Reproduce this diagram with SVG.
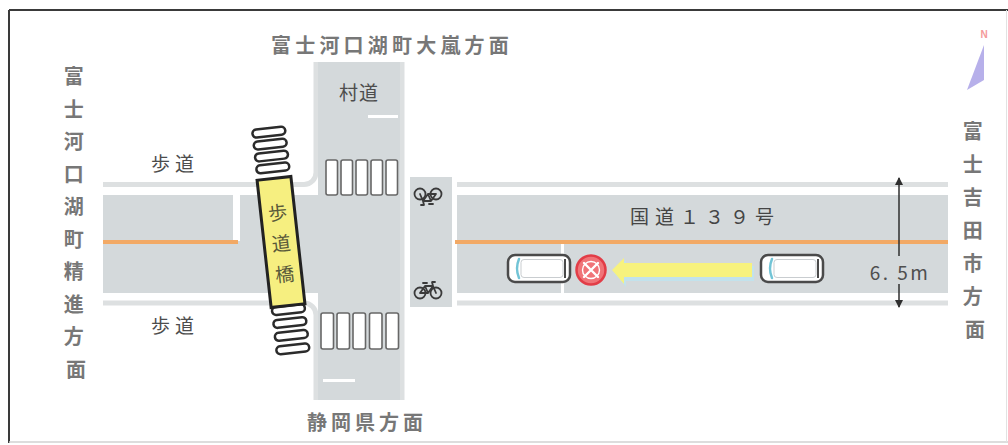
<svg xmlns="http://www.w3.org/2000/svg" width="1008" height="445" viewBox="0 0 1008 445">
  <style>
    .road{fill:#d4d9db}
    .curb{fill:none;stroke:#dde0e1;stroke-width:5}
    .cline{fill:#f2a965}
    .stop{fill:#ffffff}
    .zebra rect{fill:#ffffff;stroke:#676767;stroke-width:1.6}
    .dir{font-family:"Noto Sans CJK JP","Noto Sans",sans-serif;font-weight:700;font-size:20px;fill:#777777;text-anchor:middle;dominant-baseline:central}
    .lbl{font-family:"Noto Sans CJK JP","Noto Sans",sans-serif;font-size:19px;fill:#4d4d4d;text-anchor:middle;dominant-baseline:central}
    .pill{fill:#ffffff;stroke:#2b2b2b;stroke-width:2.5}
    .bike{fill:none;stroke:#3a3a3a;stroke-width:1.8;stroke-linecap:round;stroke-linejoin:round}
    .body{fill:#ffffff;stroke:#4a4a4a;stroke-width:2.5}
    .glass{fill:none;stroke:#72c4d6;stroke-width:2.5;stroke-linecap:round}
  </style>
  <defs>
    <marker id="dimHead" viewBox="0 0 8 8" markerWidth="8" markerHeight="8" refX="7" refY="4" orient="auto" markerUnits="userSpaceOnUse">
      <path d="M0,0 L8,4 L0,8 z" fill="#2f2f2f"/>
    </marker>
    <g id="bicycle">
      <circle cx="-8" cy="3" r="5.5" class="bike"/>
      <circle cx="8" cy="3" r="5.5" class="bike"/>
      <path class="bike" d="M-8,3 L-3,-4 L5,-4 L8,3 M-3,-4 L0,3 L5,-4 M-8,3 L0,3 M5,-4 L4,-8 L7,-8 M-5,-7 L-1,-7"/>
    </g>
    <g id="car">
      <rect class="body" x="0" y="0" width="62" height="27" rx="7"/>
      <path class="glass" d="M11,4 Q7,13.5 11,23"/>
      <rect x="13" y="4.5" width="42" height="18" rx="3" fill="none" stroke="#c9cdd0" stroke-width="1"/>
      <line x1="57" y1="4" x2="57" y2="23" stroke="#4a4a4a" stroke-width="2"/>
    </g>
  </defs>

  <rect width="1008" height="445" fill="#ffffff"/>

  <!-- frame -->
  <g id="frame">
    <line x1="9" y1="10" x2="1008" y2="10" stroke="#3a3a3a" stroke-width="2"/>
    <line x1="9" y1="10" x2="9" y2="443" stroke="#3a3a3a" stroke-width="2"/>
    <line x1="9" y1="442" x2="1008" y2="442" stroke="#d2d2d2" stroke-width="1.5"/>
    <line x1="1006.5" y1="10" x2="1006.5" y2="442" stroke="#e2e2e2" stroke-width="1"/>
  </g>

  <!-- road surface -->
  <g id="roads">
    <!-- curbs -->
    <path class="curb" d="M103,184.5 H304 A12,12 0 0 0 316,172.5 V62"/>
    <path class="curb" d="M103,303 H304 A12,12 0 0 1 316,315 V400"/>
    <line class="curb" x1="402" y1="62" x2="402" y2="400"/>
    <line class="curb" x1="457" y1="184.5" x2="948" y2="184.5"/>
    <line class="curb" x1="457" y1="303" x2="948" y2="303"/>
    <!-- carriageways -->
    <rect class="road" x="103" y="195" width="130" height="46"/>
    <rect class="road" x="240" y="195" width="80" height="46"/>
    <rect class="road" x="103" y="241" width="217" height="52"/>
    <rect class="road" x="318" y="62" width="82" height="338"/>
    <rect class="road" x="410" y="177" width="42" height="130"/>
    <rect class="road" x="457" y="195" width="491" height="98"/>
    <!-- centre line -->
    <rect class="cline" x="103" y="240" width="135" height="4"/>
    <rect class="cline" x="455" y="240" width="493" height="4"/>
    <!-- stop lines -->
    <rect class="stop" x="368" y="115" width="30" height="3"/>
    <rect class="stop" x="323" y="379" width="32" height="3"/>
    <rect class="stop" x="561" y="244" width="3" height="49"/>
  </g>

  <!-- pedestrian crossings -->
  <g id="crossing-north" class="zebra">
    <rect x="326" y="160" width="11.5" height="35" rx="2"/>
    <rect x="341" y="160" width="11.5" height="35" rx="2"/>
    <rect x="356" y="160" width="11.5" height="35" rx="2"/>
    <rect x="371" y="160" width="11.5" height="35" rx="2"/>
    <rect x="386" y="160" width="11.5" height="35" rx="2"/>
  </g>
  <g id="crossing-south" class="zebra">
    <rect x="321" y="313" width="12.5" height="36" rx="2"/>
    <rect x="337" y="313" width="12.5" height="36" rx="2"/>
    <rect x="353" y="313" width="12.5" height="36" rx="2"/>
    <rect x="369.5" y="313" width="12.5" height="36" rx="2"/>
    <rect x="386" y="313" width="12.5" height="36" rx="2"/>
  </g>

  <!-- cycle crossing -->
  <g id="bicycle-north">
    <use href="#bicycle" transform="translate(428,197) rotate(180)"/>
  </g>
  <g id="bicycle-south">
    <use href="#bicycle" transform="translate(428,290)"/>
  </g>

  <!-- footbridge -->
  <g id="footbridge" transform="translate(281,242) rotate(-6.3)">
    <rect class="pill" x="-16.5" y="-114.5" width="33" height="8" rx="4"/>
    <rect class="pill" x="-16.5" y="-102.5" width="33" height="8" rx="4"/>
    <rect class="pill" x="-16.5" y="-90.5" width="33" height="8" rx="4"/>
    <rect class="pill" x="-16.5" y="-78.5" width="33" height="8" rx="4"/>
    <rect class="pill" x="-16.5" y="64" width="33" height="8" rx="4"/>
    <rect class="pill" x="-16.5" y="77" width="33" height="8" rx="4"/>
    <rect class="pill" x="-16.5" y="90" width="33" height="8" rx="4"/>
    <rect class="pill" x="-16.5" y="103.5" width="33" height="8" rx="4"/>
    <rect x="-17" y="-64" width="34" height="128" fill="#f6ef80" stroke="#222222" stroke-width="3"/>
    <text class="lbl" x="0" y="-31" style="fill:#5a5a3a">歩</text>
    <text class="lbl" x="0" y="0" style="fill:#5a5a3a">道</text>
    <text class="lbl" x="0" y="31" style="fill:#5a5a3a">橋</text>
  </g>

  <!-- vehicles and no-entry mark -->
  <g id="car-stopped">
    <use href="#car" transform="translate(508,255)"/>
  </g>
  <g id="no-entry" transform="translate(591,270)">
    <circle r="14.5" fill="#f07478" stroke="#e23d47" stroke-width="2.5"/>
    <circle r="8.5" fill="none" stroke="#ffffff" stroke-width="1.4"/>
    <path d="M-7,-7 L7,7 M7,-7 L-7,7" stroke="#ffffff" stroke-width="2.4" stroke-linecap="round"/>
  </g>
  <g id="car-approaching">
    <use href="#car" transform="translate(761,255)"/>
  </g>

  <!-- connectors -->
  <g id="connectors">
    <path d="M614,273 L626,260 V266 H754 V281 H626 V287 z" fill="#c2e2ec"/>
    <path d="M612,270 L624,258 V263 H752 V277 H624 V284 z" fill="#f7f27e"/>
    <line x1="899" y1="256" x2="899" y2="178" stroke="#2f2f2f" stroke-width="1.5" marker-end="url(#dimHead)"/>
    <line x1="899" y1="284" x2="899" y2="307" stroke="#2f2f2f" stroke-width="1.5" marker-end="url(#dimHead)"/>
  </g>

  <!-- road labels -->
  <g id="labels">
    <text class="lbl" x="175" y="162" letter-spacing="5">歩道</text>
    <text class="lbl" x="175" y="324" letter-spacing="5">歩道</text>
    <text class="lbl" x="359" y="91" letter-spacing="1">村道</text>
    <text class="lbl" x="705" y="215" font-size="19" letter-spacing="6" style="fill:#454545">国道１３９号</text>
    <text class="lbl" x="900" y="271" font-family="Liberation Sans, sans-serif" font-size="19" letter-spacing="2.5" style="fill:#4f4f4f">6. 5m</text>
  </g>

  <!-- destinations -->
  <g id="dest-north">
    <text class="dir" x="392" y="44" letter-spacing="4.2">富士河口湖町大嵐方面</text>
  </g>
  <g id="dest-south">
    <text class="dir" x="367" y="421" letter-spacing="4">静岡県方面</text>
  </g>
  <g id="dest-west">
    <text class="dir">
      <tspan x="76" y="75">富</tspan>
      <tspan x="76" y="107.5">士</tspan>
      <tspan x="76" y="140">河</tspan>
      <tspan x="76" y="172.5">口</tspan>
      <tspan x="76" y="205">湖</tspan>
      <tspan x="76" y="237.5">町</tspan>
      <tspan x="76" y="270">精</tspan>
      <tspan x="76" y="302.5">進</tspan>
      <tspan x="76" y="335">方</tspan>
      <tspan x="76" y="367.5">面</tspan>
    </text>
  </g>
  <g id="dest-east">
    <text class="dir">
      <tspan x="975" y="130">富</tspan>
      <tspan x="975" y="163">士</tspan>
      <tspan x="975" y="196">吉</tspan>
      <tspan x="975" y="229">田</tspan>
      <tspan x="975" y="262">市</tspan>
      <tspan x="975" y="295">方</tspan>
      <tspan x="975" y="328">面</tspan>
    </text>
  </g>

  <!-- north arrow -->
  <g id="compass">
    <text x="984" y="38" font-family="Liberation Sans, sans-serif" font-size="10" font-weight="700" fill="#f49a9a" text-anchor="middle">N</text>
    <path d="M984,45 L967,90 L984,80 z" fill="#b7b0ea"/>
  </g>
</svg>
